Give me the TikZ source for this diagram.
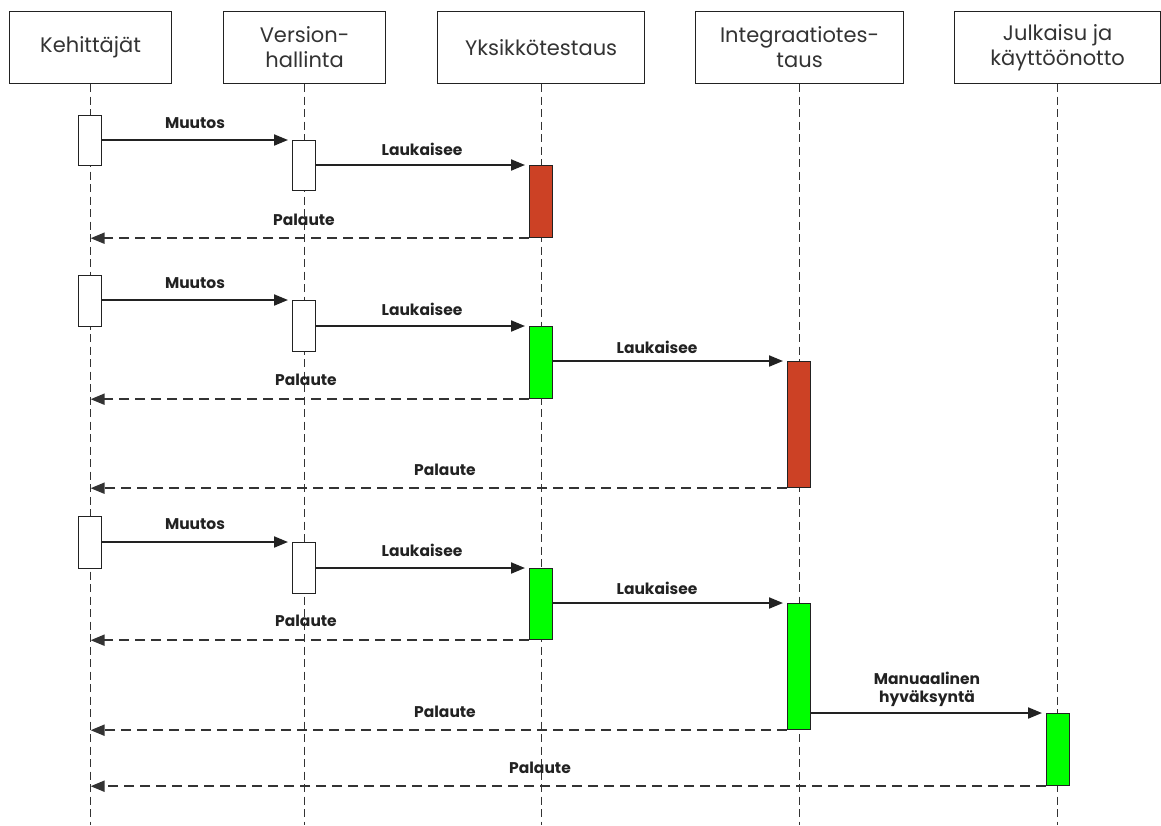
\documentclass[tikz,border=0pt]{standalone}
\usepackage{fontspec}
\setmainfont{Poppins}
\usetikzlibrary{arrows.meta}
\definecolor{failred}{HTML}{CC4125}
\definecolor{passgreen}{HTML}{00FF00}
\definecolor{ink}{HTML}{222222}
\begin{document}
\begin{tikzpicture}[x=1pt,y=-1pt,
  actor/.style={draw=ink, line width=1.2pt, fill=white, minimum width=162pt, minimum height=72pt,
    inner sep=0pt, align=center, font=\fontsize{21}{25}\selectfont, text=black!80, anchor=north west},
  lifeline/.style={draw=black!80, line width=1.1pt, dash pattern=on 8pt off 4.5pt},
  bar/.style={draw=ink, line width=1.2pt, fill=white, minimum width=23pt, inner sep=0pt, anchor=north west},
  msg/.style={draw=ink, line width=2pt, -{Triangle[length=14pt,width=11pt]}, shorten >=4pt},
  reply/.style={draw=black!80, line width=2pt, dash pattern=on 10pt off 6pt, -{Triangle[length=14pt,width=11pt]}},
  lbl/.style={font=\fontsize{15.5}{18}\selectfont\bfseries, text=ink, align=center, inner sep=0pt}]
\useasboundingbox (0,0) rectangle (1161,825);

% participants
\node[actor] (dev) at (9,11) {Kehittäjät};
\node[actor] (vcs) at (223,11) {Version-\\hallinta};
\node[actor, minimum width=207pt] (unit) at (437,11) {Yksikkötestaus};
\node[actor, minimum width=208pt] (integ) at (695,11) {Integraatiotes-\\taus};
\node[actor, minimum width=206pt] (rel) at (954,11) {Julkaisu ja\\käyttöönotto};

% lifeline ends
\coordinate (devE) at (dev.south |- 0,825);
\coordinate (vcsE) at (vcs.south |- 0,825);
\coordinate (unitE) at (unit.south |- 0,825);
\coordinate (integE) at (integ.south |- 0,825);
\coordinate (relE) at (rel.south |- 0,825);
\draw[lifeline] (dev.south) -- (devE);
\draw[lifeline] (vcs.south) -- (vcsE);
\draw[lifeline] (unit.south) -- (unitE);
\draw[lifeline] (integ.south) -- (integE);
\draw[lifeline] (rel.south) -- (relE);

% activation bars
\node[bar, minimum height=50pt] (d1) at (78,115) {};
\node[bar, minimum height=50pt] (v1) at (292,140) {};
\node[bar, minimum height=72pt, fill=failred] (u1) at (529,165) {};

\node[bar, minimum height=51pt] (d2) at (78,275) {};
\node[bar, minimum height=51pt] (v2) at (292,300) {};
\node[bar, minimum height=72pt, fill=passgreen] (u2) at (529,326) {};
\node[bar, minimum height=126pt, fill=failred] (i1) at (787,361) {};

\node[bar, minimum height=52pt] (d3) at (78,516) {};
\node[bar, minimum height=51pt] (v3) at (292,542) {};
\node[bar, minimum height=71pt, fill=passgreen] (u3) at (529,568) {};
\node[bar, minimum height=126pt, fill=passgreen] (i2) at (787,603) {};
\node[bar, minimum height=72pt, fill=passgreen] (r1) at (1046,713) {};

% round 1
\draw[msg] (d1.east |- v1.north) -- (v1.north west);
\node[lbl] (m1) at (195,123) {Muutos};
\draw[msg] (v1.east |- u1.north) -- (u1.north west);
\node[lbl] (l1) at (422,149) {Laukaisee};
\draw[reply] (u1.south west) -- (devE |- u1.south);
\node[lbl] (p1) at (304,220) {Palaute};

% round 2
\draw[msg] (d2.east |- v2.north) -- (v2.north west);
\node[lbl] (m2) at (195,283) {Muutos};
\draw[msg] (v2.east |- u2.north) -- (u2.north west);
\node[lbl] (l2) at (422,309) {Laukaisee};
\draw[msg] (u2.east |- i1.north) -- (i1.north west);
\node[lbl] (l3) at (657,347) {Laukaisee};
\draw[reply] (u2.south west) -- (devE |- u2.south);
\node[lbl] (p2) at (306,380) {Palaute};
\draw[reply] (i1.south west) -- (devE |- i1.south);
\node[lbl] (p3) at (445,470) {Palaute};

% round 3
\draw[msg] (d3.east |- v3.north) -- (v3.north west);
\node[lbl] (m3) at (195,524) {Muutos};
\draw[msg] (v3.east |- u3.north) -- (u3.north west);
\node[lbl] (l4) at (422,550) {Laukaisee};
\draw[msg] (u3.east |- i2.north) -- (i2.north west);
\node[lbl] (l5) at (657,588) {Laukaisee};
\draw[reply] (u3.south west) -- (devE |- u3.south);
\node[lbl] (p4) at (306,621) {Palaute};
\draw[msg] (i2.east |- r1.north) -- (r1.north west);
\node[lbl] (ma) at (927,689) {Manuaalinen\\hyväksyntä};
\draw[reply] (i2.south west) -- (devE |- i2.south);
\node[lbl] (p5) at (445,712) {Palaute};
\draw[reply] (r1.south west) -- (devE |- r1.south);
\node[lbl] (p6) at (540,768) {Palaute};
\end{tikzpicture}
\end{document}
